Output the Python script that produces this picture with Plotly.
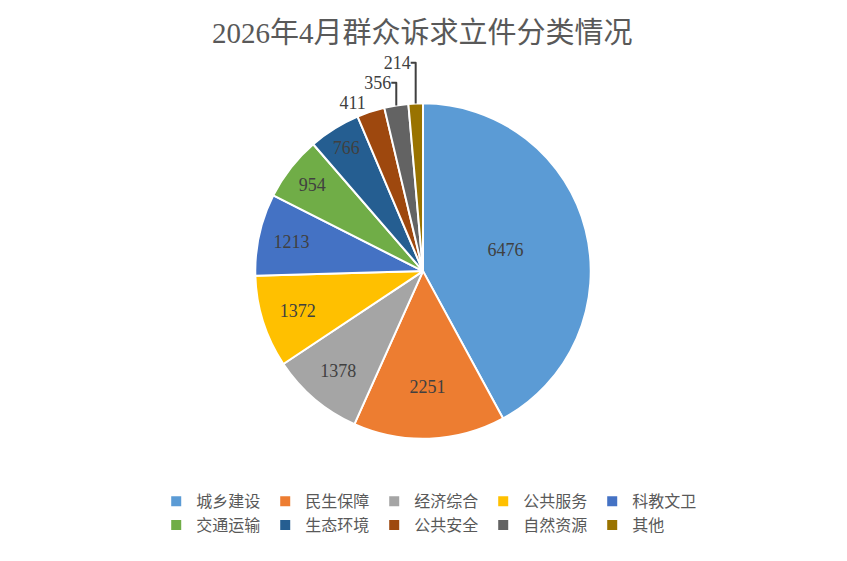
import plotly.graph_objects as go

categories = ["城乡建设", "民生保障", "经济综合", "公共服务", "科教文卫",
              "交通运输", "生态环境", "公共安全", "自然资源", "其他"]
counts = [6476, 2251, 1378, 1372, 1213, 954, 766, 411, 356, 214]
colors = ["#5B9BD5", "#ED7D31", "#A5A5A5", "#FFC000", "#4472C4",
          "#70AD47", "#255E91", "#9E480E", "#636363", "#997300"]
text_pos = ["inside"] * 7 + ["outside"] * 3

fig = go.Figure(go.Pie(
    labels=categories,
    values=counts,
    sort=False,
    direction="clockwise",
    rotation=0,
    marker=dict(colors=colors, line=dict(color="white", width=2)),
    textinfo="value",
    textposition=text_pos,
    insidetextorientation="horizontal",
    textfont=dict(family="Liberation Serif", size=18, color="#404040"),
    domain=dict(x=[0.1831, 0.7864], y=[0.232, 0.830]),
    hoverinfo="label+value+percent",
))

fig.update_layout(
    width=847, height=561,
    margin=dict(l=145, r=145, t=0, b=0),
    paper_bgcolor="white",
    title=dict(text="2026年4月群众诉求立件分类情况", x=0.489, xanchor="center",
               y=0.955, yanchor="middle",
               font=dict(family="Liberation Serif, Noto Sans CJK SC", size=29, color="#595959")),
    uniformtext=dict(minsize=18, mode="show"),
    legend=dict(orientation="h", x=0.495, xanchor="center", y=0.151, yanchor="top",
                entrywidth=64, entrywidthmode="pixels",
                font=dict(family="Noto Sans CJK SC", size=16, color="#595959"),
                tracegroupgap=0, itemwidth=30),
)

fig.write_html("out.html")
